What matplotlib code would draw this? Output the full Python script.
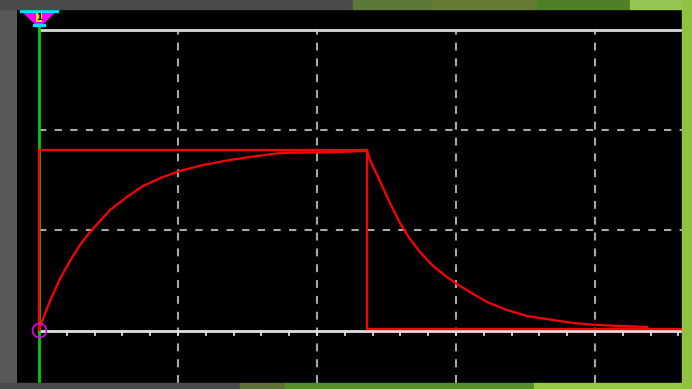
import numpy as np
import matplotlib.pyplot as plt
from matplotlib.patches import Rectangle, Polygon

# scope trace, x in divisions, y in divisions
step_t = [0, 0, 2.36, 2.36, 4.63]
step_v = [0.01, 1.80, 1.80, 0.01, 0.01]

rise_t = [0, 0.007, 0.079, 0.151, 0.223, 0.295, 0.367, 0.439, 0.511, 0.633,
          0.748, 0.892, 1.014, 1.180, 1.374, 1.518, 1.734, 2.144, 2.36]
rise_v = [0, 0.03, 0.29, 0.51, 0.69, 0.85, 0.98, 1.09, 1.20, 1.33,
          1.44, 1.53, 1.59, 1.65, 1.70, 1.73, 1.77, 1.78, 1.79]

fall_t = [2.360, 2.381, 2.453, 2.525, 2.597, 2.669, 2.741, 2.835, 2.935, 3.007,
          3.101, 3.223, 3.367, 3.511, 3.698, 3.842, 4.014, 4.374]
fall_v = [1.80, 1.70, 1.49, 1.27, 1.07, 0.91, 0.78, 0.64, 0.53, 0.46,
          0.38, 0.28, 0.20, 0.14, 0.10, 0.07, 0.05, 0.03]

xgrid = [1, 2, 3, 4]
ygrid = [1, 2]

W, H = 692, 389
fig = plt.figure(figsize=(W / 100, H / 100), dpi=100, facecolor='#595959')

# slide background bits around the screen
def band(x0, y0, x1, y1, c):
    fig.patches.append(Rectangle((x0 / W, 1 - y1 / H), (x1 - x0) / W, (y1 - y0) / H,
                                 transform=fig.transFigure, color=c, zorder=0))

band(0, 0, 353, 9, '#4a4a4a')
band(353, 0, 432, 9, '#5d7838')
band(432, 0, 537, 9, '#687b36')
band(537, 0, 630, 9, '#4f7f27')
band(630, 0, 692, 9, '#97c553')
band(682, 0, 692, 389, '#8fc23f')
band(0, 383, 240, 389, '#4a4a4a')
band(240, 383, 285, 389, '#5f7037')
band(285, 383, 534, 389, '#53902b')
band(534, 383, 682, 389, '#94c83f')

ax = fig.add_axes([17 / W, 6 / H, 665 / W, 374 / H])
ax.set_facecolor('black')
x0, x1 = -0.158, 4.626
y0, y1 = -0.53, 3.21
ax.set_xlim(x0, x1)
ax.set_ylim(y0, y1)
ax.set_xticks([])
ax.set_yticks([])
for s in ax.spines.values():
    s.set_visible(False)

gc = '#a8a8a8'
for x in xgrid:
    ax.plot([x, x], [y0, 3.0], color=gc, lw=1.5, dashes=(3.8, 3.8), zorder=1)
for y in ygrid:
    ax.plot([0, x1], [y, y], color=gc, lw=1.5, dashes=(3.5, 4), zorder=1)

ax.plot([0, x1], [3.0, 3.0], color='#d8d8d8', lw=2, zorder=2)
ax.plot([0, x1], [-0.01, -0.01], color='#e0e0e0', lw=2, zorder=2)
for t in np.arange(0.2, 4.7, 0.2):
    ax.plot([t, t], [-0.01, -0.045], color='#e0e0e0', lw=1.3, zorder=2)

ax.plot([0, 0], [y0, 3.03], color='#00cc00', lw=2, zorder=3)

ax.plot(step_t, step_v, color='#ff0000', lw=1.6, zorder=4)
ax.plot(rise_t, rise_v, color='#ff0000', lw=1.6, zorder=4)
ax.plot(fall_t, fall_v, color='#ff0000', lw=1.6, zorder=4)

ax.plot([0], [0], marker='o', ms=10, mfc='none', mec='#e000e0', mew=1.2, zorder=5)

# trigger marker at the top
ax.add_patch(Polygon([[-0.137, 3.21], [0.137, 3.21], [0, 3.03]], closed=True,
                     color='#ff00ff', clip_on=False, zorder=6))
ax.add_patch(Rectangle((-0.137, 3.185), 0.274, 0.025, color='#00e0ff', clip_on=False, zorder=7))
ax.add_patch(Rectangle((-0.04, 3.045), 0.08, 0.02, color='#00e0ff', clip_on=False, zorder=7))
ax.text(0, 3.125, '1', color='black', fontsize=6, fontweight='bold', ha='center', va='center',
        zorder=8, bbox=dict(boxstyle='square,pad=0.05', fc='#ffd000', ec='none'))

fig.savefig('out.png', dpi=100, facecolor=fig.get_facecolor())
